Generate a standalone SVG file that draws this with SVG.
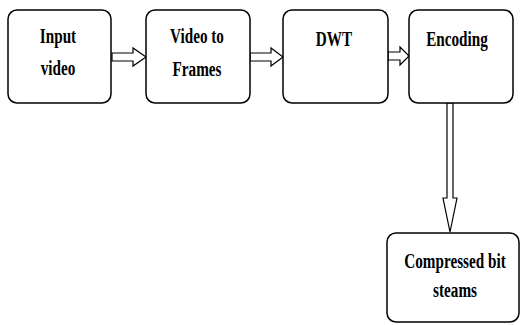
<svg xmlns="http://www.w3.org/2000/svg" width="520" height="325" viewBox="0 0 520 325">
<style>
.box{fill:#fff;stroke:#000;stroke-width:1.5}
.arr{fill:#fff;stroke:#000;stroke-width:1.2;stroke-linejoin:miter}
text{font-family:"Liberation Serif","Times New Roman",serif;font-weight:bold;font-size:20px;fill:#000;text-anchor:middle}
</style>
<rect width="520" height="325" fill="#fff"/>
<g id="connectors">
<polygon class="arr" points="112,53 133,53 133,48 146,57 133,66 133,61 112,61"/>
<polygon class="arr" points="250,53 271,53 271,48 283,57 271,66 271,61 250,61"/>
<polygon class="arr" points="388,52 400,52 400,47 409,56 400,65 400,60 388,60"/>
<polygon class="arr" points="447,103 453,103 453,198 457,198 450,232 443,198 447,198"/>
</g>
<g id="n1">
<rect class="box" x="8" y="10" width="103" height="93" rx="9"/>
<text transform="translate(58,43) scale(0.76,1)">Input</text>
<text transform="translate(58,75) scale(0.76,1)">video</text>
</g>
<g id="n2">
<rect class="box" x="146" y="10" width="104" height="93" rx="9"/>
<text transform="translate(197,43) scale(0.76,1)">Video to</text>
<text transform="translate(197,76) scale(0.76,1)">Frames</text>
</g>
<g id="n3">
<rect class="box" x="283" y="10" width="105" height="93" rx="9"/>
<text transform="translate(334,46) scale(0.76,1)">DWT</text>
</g>
<g id="n4">
<rect class="box" x="409" y="10" width="104" height="93" rx="9"/>
<text transform="translate(457,46) scale(0.76,1)">Encoding</text>
</g>
<g id="n5">
<rect class="box" x="387" y="233" width="132" height="89" rx="9"/>
<text transform="translate(455,268) scale(0.76,1)">Compressed bit</text>
<text transform="translate(455,297) scale(0.76,1)">steams</text>
</g>
</svg>
